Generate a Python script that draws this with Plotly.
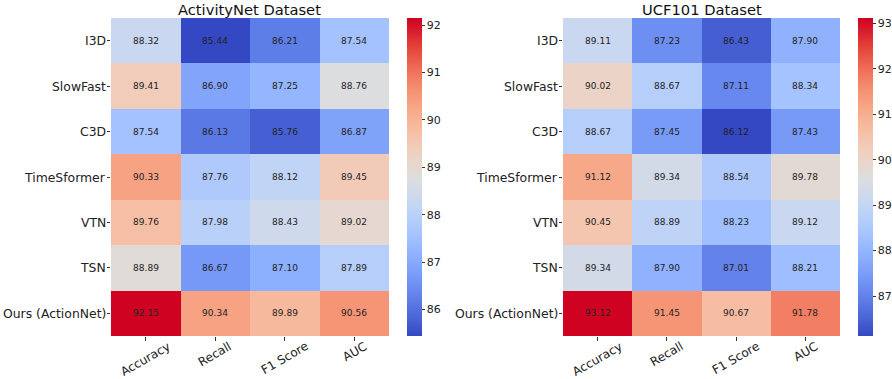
import plotly.graph_objects as go

models = ["I3D", "SlowFast", "C3D", "TimeSformer", "VTN", "TSN", "Ours (ActionNet)"]
metrics = ["Accuracy", "Recall", "F1 Score", "AUC"]

activitynet = [
    [88.32, 85.44, 86.21, 87.54],
    [89.41, 86.90, 87.25, 88.76],
    [87.54, 86.13, 85.76, 86.87],
    [90.33, 87.76, 88.12, 89.45],
    [89.76, 87.98, 88.43, 89.02],
    [88.89, 86.67, 87.10, 87.89],
    [92.15, 90.34, 89.89, 90.56],
]
ucf101 = [
    [89.11, 87.23, 86.43, 87.90],
    [90.02, 88.67, 87.11, 88.34],
    [88.67, 87.45, 86.12, 87.43],
    [91.12, 89.34, 88.54, 89.78],
    [90.45, 88.89, 88.23, 89.12],
    [89.34, 87.90, 87.01, 88.21],
    [93.12, 91.45, 90.67, 91.78],
]
titles = ["ActivityNet Dataset", "UCF101 Dataset"]

cw = [
    (0.0, (52, 72, 196)), (0.03125, (64, 88, 206)), (0.0625, (75, 103, 216)),
    (0.09375, (87, 117, 225)), (0.125, (98, 130, 234)), (0.15625, (108, 142, 241)),
    (0.1875, (119, 154, 247)), (0.21875, (130, 165, 251)), (0.25, (141, 176, 254)),
    (0.28125, (152, 185, 255)), (0.3125, (163, 194, 255)), (0.34375, (174, 201, 253)),
    (0.375, (184, 208, 249)), (0.40625, (194, 213, 244)), (0.4375, (204, 217, 238)),
    (0.46875, (213, 219, 230)), (0.5, (221, 221, 221)), (0.53125, (229, 216, 209)),
    (0.5625, (236, 211, 197)), (0.59375, (241, 204, 185)), (0.625, (245, 196, 173)),
    (0.65625, (247, 187, 160)), (0.6875, (247, 177, 148)), (0.71875, (247, 166, 135)),
    (0.75, (246, 154, 123)), (0.78125, (245, 140, 110)), (0.8125, (242, 124, 97)),
    (0.84375, (238, 107, 85)), (0.875, (234, 88, 72)), (0.90625, (228, 68, 60)),
    (0.9375, (222, 46, 50)), (0.96875, (214, 22, 42)), (1.0, (208, 2, 34)),
]
colorscale = [[p, f"rgb({r},{g},{b})"] for p, (r, g, b) in cw]

W, H = 892, 379
hm_x = [(111, 389), (563, 840)]
cb_x = [407, 858]
y_top, y_bot = 18, 336

fig = go.Figure()
font_family = "DejaVu Sans"
for i, data in enumerate([activitynet, ucf101]):
    xa = "x" if i == 0 else "x2"
    ya = "y" if i == 0 else "y2"
    fig.add_trace(go.Heatmap(
        z=data, x=metrics, y=models, xaxis=xa, yaxis=ya,
        colorscale=colorscale, zmin=min(min(r) for r in data), zmax=max(max(r) for r in data),
        texttemplate="%{z:.2f}", textfont=dict(size=9, color="#222", family=font_family),
        xgap=0, ygap=0, hoverinfo="skip",
        colorbar=dict(
            x=cb_x[i] / W, xanchor="left", xref="container",
            y=1 - y_top / H, yanchor="top", yref="container",
            len=(y_bot - y_top) / H, lenmode="fraction",
            thickness=15, thicknessmode="pixels", outlinewidth=0, xpad=0, ypad=0,
            ticks="outside", ticklen=3, tickcolor="#333", dtick=1,
            tickfont=dict(size=11, family=font_family, color="#222"),
        ),
    ))
    x0, x1 = hm_x[i]
    key = "" if i == 0 else "2"
    fig.layout["xaxis" + key] = dict(
        domain=[x0 / W, x1 / W], anchor=ya, ticks="outside", ticklen=4,
        tickcolor="#333", showticklabels=False,
        showgrid=False, zeroline=False, showline=False, automargin=False,
    )
    fig.layout["yaxis" + key] = dict(
        domain=[1 - y_bot / H, 1 - y_top / H], anchor=xa, autorange="reversed",
        ticks="outside", ticklen=3, tickcolor="#333", showticklabels=False,
        showgrid=False, zeroline=False, showline=False, automargin=False,
    )
    fig.add_annotation(
        text=titles[i], x=(x0 + x1) / 2 / W, y=1 - 9 / H, xref="paper", yref="paper",
        showarrow=False, font=dict(size=14.7, family=font_family, color="#111"),
        xanchor="center", yanchor="middle",
    )
    for m in metrics:
        fig.add_annotation(
            text=m, x=m, xref=xa, y=1 - 338 / H, yref="paper", textangle=-30,
            showarrow=False, xanchor="center", yanchor="top", borderpad=0,
            font=dict(size=12, family=font_family, color="#222"),
        )
    for md in models:
        fig.add_annotation(
            text=md, y=md, yref=ya, x=(x0 - 4.5) / W, xref="paper",
            showarrow=False, xanchor="right", yanchor="middle", borderpad=0,
            font=dict(size=12.4, family=font_family, color="#222"),
        )

fig.update_layout(
    width=W, height=H, margin=dict(l=0, r=0, t=0, b=0, autoexpand=False),
    paper_bgcolor="white", plot_bgcolor="white", showlegend=False,
)
fig.write_html("out.html", config={"displayModeBar": False},
               post_script="document.body.style.margin='0';document.body.style.overflow='hidden';")
